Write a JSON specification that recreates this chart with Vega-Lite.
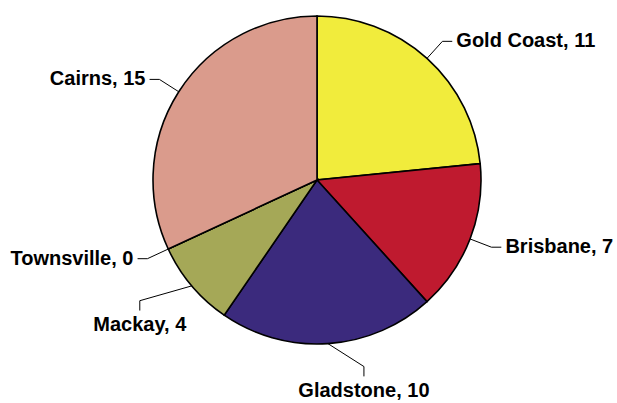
{
  "$schema": "https://vega.github.io/schema/vega-lite/v6.json",
  "width": 600,
  "height": 340,
  "autosize": {"type": "none"},
  "padding": {"left": 17, "top": 10, "right": 0, "bottom": 53},
  "background": "white",
  "config": {"view": {"stroke": null}},
  "data": {
    "values": [
      {"city": "Gold Coast", "value": 11},
      {"city": "Brisbane", "value": 7},
      {"city": "Gladstone", "value": 10},
      {"city": "Mackay", "value": 4},
      {"city": "Townsville", "value": 0},
      {"city": "Cairns", "value": 15}
    ]
  },
  "transform": [
    {"joinaggregate": [{"op": "sum", "field": "value", "as": "total"}]},
    {"window": [{"op": "sum", "field": "value", "as": "cum"}], "frame": [null, 0]},
    {"calculate": "2*PI*(datum.cum-datum.value)/datum.total", "as": "a0"},
    {"calculate": "2*PI*datum.cum/datum.total", "as": "a1"},
    {"calculate": "(datum.a0+datum.a1)/2", "as": "mid"},
    {"calculate": "sin(datum.mid)", "as": "sx"},
    {"calculate": "cos(datum.mid)", "as": "sy"},
    {"calculate": "datum.mid*180/PI >= 150 && datum.mid*180/PI <= 235 ? 'down' : (datum.mid < PI ? 'right' : 'left')", "as": "side"},
    {"calculate": "1.14*datum.sx + (datum.side == 'down' ? (datum.sx < 0 ? -0.21 : 0.21) : 0)", "as": "ex"},
    {"calculate": "1.14*datum.sy", "as": "ey"},
    {"calculate": "datum.ex + (datum.side == 'right' ? 0.06 : datum.side == 'left' ? -0.06 : 0)", "as": "fx"},
    {"calculate": "datum.ey - (datum.side == 'down' ? 0.06 : 0)", "as": "fy"},
    {"calculate": "datum.fx + (datum.side == 'right' ? 0.025 : datum.side == 'left' ? -0.025 : 0)", "as": "lx"},
    {"calculate": "datum.fy - (datum.side == 'down' ? 0.088 : 0)", "as": "ly"},
    {"calculate": "datum.city + ', ' + datum.value", "as": "label"}
  ],
  "layer": [
    {
      "mark": {"type": "arc", "outerRadius": 164, "stroke": "black", "strokeWidth": 1.6},
      "encoding": {
        "theta": {"field": "a0", "type": "quantitative", "scale": null},
        "theta2": {"field": "a1"},
        "color": {
          "field": "city",
          "type": "nominal",
          "scale": {
            "domain": ["Gold Coast", "Brisbane", "Gladstone", "Mackay", "Townsville", "Cairns"],
            "range": ["#f1ec3c", "#bf1a2f", "#3b2a7d", "#a5a857", "#8fa0c0", "#da9b8c"]
          },
          "legend": null
        }
      }
    },
    {
      "mark": {"type": "rule", "color": "black", "strokeWidth": 1},
      "encoding": {
        "x": {"field": "sx", "type": "quantitative", "scale": {"domain": [-1.82927, 1.82927], "nice": false, "zero": false}, "axis": null},
        "y": {"field": "sy", "type": "quantitative", "scale": {"domain": [-1.03659, 1.03659], "nice": false, "zero": false}, "axis": null},
        "x2": {"field": "ex"},
        "y2": {"field": "ey"}
      }
    },
    {
      "mark": {"type": "rule", "color": "black", "strokeWidth": 1},
      "encoding": {
        "x": {"field": "ex", "type": "quantitative"},
        "y": {"field": "ey", "type": "quantitative"},
        "x2": {"field": "fx"},
        "y2": {"field": "fy"}
      }
    },
    {
      "transform": [{"filter": "datum.side == 'right'"}],
      "mark": {"type": "text", "align": "left", "baseline": "middle", "font": "Liberation Sans", "fontWeight": "bold", "fontSize": 20},
      "encoding": {
        "x": {"field": "lx", "type": "quantitative"},
        "y": {"field": "ly", "type": "quantitative"},
        "text": {"field": "label"}
      }
    },
    {
      "transform": [{"filter": "datum.side == 'left'"}],
      "mark": {"type": "text", "align": "right", "baseline": "middle", "font": "Liberation Sans", "fontWeight": "bold", "fontSize": 20},
      "encoding": {
        "x": {"field": "lx", "type": "quantitative"},
        "y": {"field": "ly", "type": "quantitative"},
        "text": {"field": "label"}
      }
    },
    {
      "transform": [{"filter": "datum.side == 'down'"}],
      "mark": {"type": "text", "align": "center", "baseline": "middle", "font": "Liberation Sans", "fontWeight": "bold", "fontSize": 20},
      "encoding": {
        "x": {"field": "lx", "type": "quantitative"},
        "y": {"field": "ly", "type": "quantitative"},
        "text": {"field": "label"}
      }
    }
  ]
}
